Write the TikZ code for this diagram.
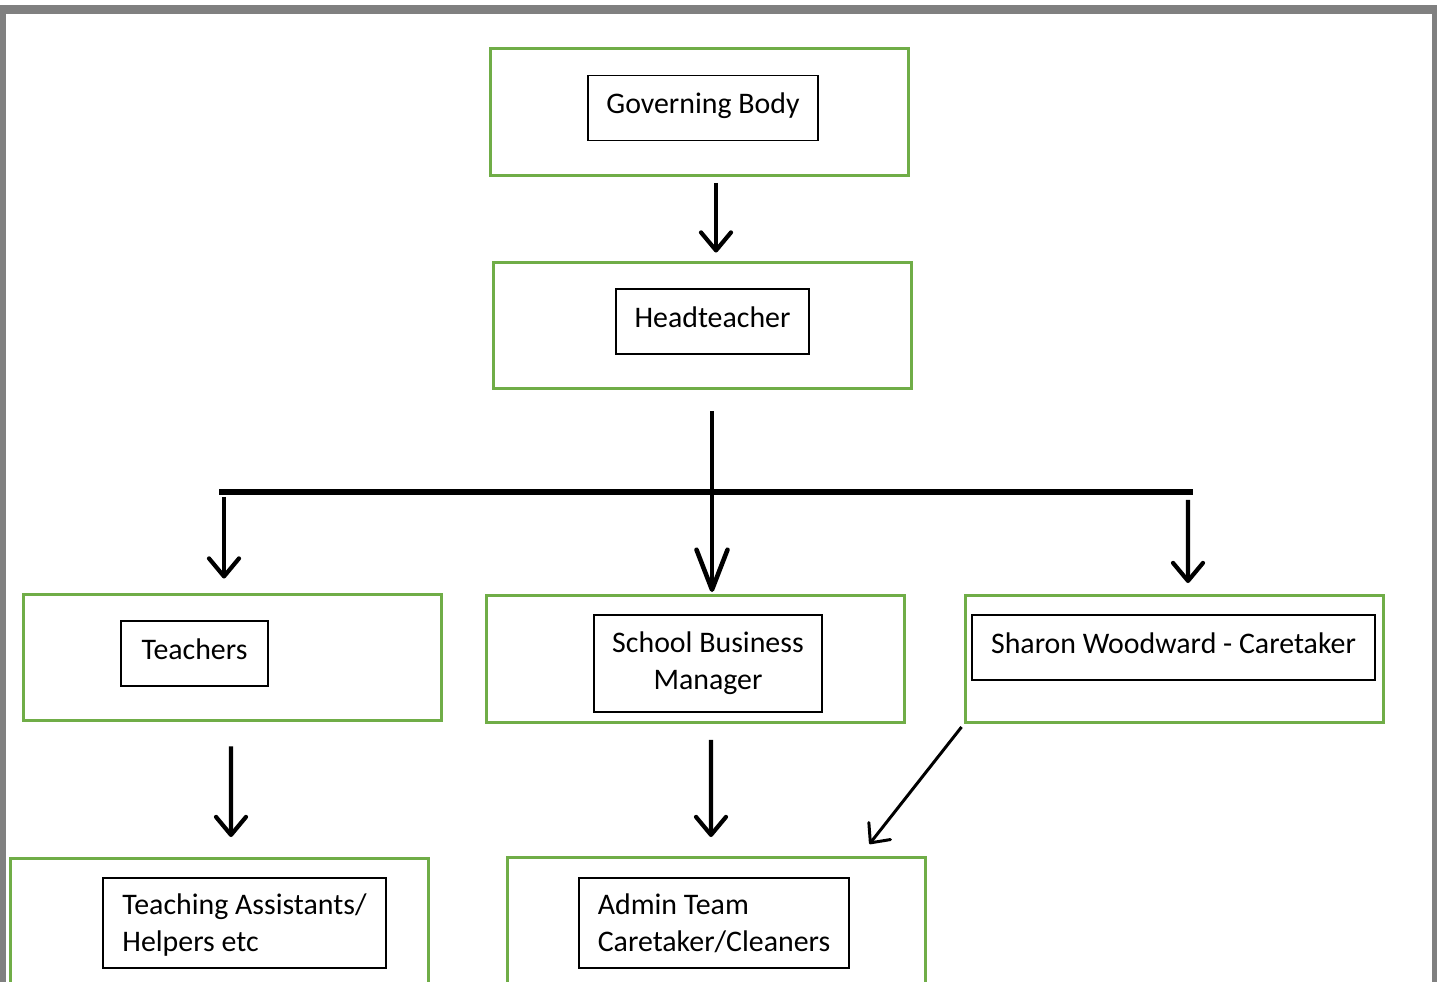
\documentclass[tikz,border=0pt]{standalone}
\usepackage{fontspec}
\setmainfont{Carlito}
\usetikzlibrary{arrows.meta, calc}

\definecolor{boxgreen}{RGB}{112,173,71}
\definecolor{framegray}{RGB}{128,128,128}

\begin{document}
\begin{tikzpicture}[x=0.02cm, y=-0.02cm,
  font=\fontsize{17}{21}\selectfont,
  outerbox/.style={draw=boxgreen, line width=1.7pt, minimum width=8.38cm, minimum height=2.54cm, inner sep=0pt},
  innerbox/.style={draw=black, line width=0.8pt, inner sep=0pt, align=center},
  onelinebox/.style={innerbox, text depth=0.18cm, minimum height=1.3cm},
  arr/.style={line width=2.4pt, -{Straight Barb[length=0.36cm, width=0.6cm, round]}},
  bigarr/.style={line width=2.6pt, -{Straight Barb[length=0.8cm, width=0.62cm, round]}},
  thinarr/.style={line width=1.7pt, -{Straight Barb[length=0.3cm, width=0.55cm, round]}}]
\useasboundingbox (0,0) rectangle (1437,982);
\clip (0,0) rectangle (1437,982);

% Page frame
\fill[framegray] (0,5) rectangle (1437,14);
\fill[framegray] (0,5) rectangle (6,982);
\fill[framegray] (1432,5) rectangle (1437,982);

% Green boxes
\node[outerbox] (gb) at (699.5,112) {};
\node[outerbox] (ht) at (702.5,325.5) {};
\node[outerbox] (teach) at (232.5,657.5) {};
\node[outerbox] (sbm) at (695.5,659) {};
\node[outerbox] (sharon) at (1174.5,659) {};
\node[outerbox] (ta) at (219.5,922) {};
\node[outerbox] (admin) at (716.5,921) {};

% Text boxes
\node[onelinebox, minimum width=4.6cm] (gbtxt) at (703,108) {Governing Body};
\node[onelinebox, minimum width=3.86cm] (httxt) at (712.5,321.5) {Headteacher};
\node[onelinebox, minimum width=2.94cm] (teachtxt) at (194.5,653.5) {Teachers};
\node[innerbox, minimum width=4.56cm, minimum height=1.94cm] (sbmtxt) at (708,663.5) {School Business\\Manager};
\node[onelinebox, minimum width=8.06cm] (sharontxt) at (1173.5,647.5) {Sharon Woodward - Caretaker};
\node[innerbox, align=left, text depth=0pt, minimum width=5.66cm, minimum height=1.8cm] (tatxt) at (244.5,923) {Teaching Assistants/\\Helpers etc};
\node[innerbox, align=left, text depth=0pt, minimum width=5.4cm, minimum height=1.8cm] (admintxt) at (714,923) {Admin Team\\Caretaker/Cleaners};

% Connectors
\coordinate (barL) at (219,492);
\coordinate (barR) at (1193,492);
\draw[arr] ($(gb.south)+(16.5,6)$) -- ($(ht.north)+(13.5,-8)$);
\draw[line width=3.4pt] (barL) -- (barR);
\draw[bigarr] ($(ht.south)+(9.5,21)$) -- ($(sbm.north)+(16.5,-2)$);
\draw[arr] ($(barL)+(5,5)$) -- ($(teach.north)+(-8.5,-14)$);
\draw[arr] ($(barR)+(-5,8)$) -- ($(sharon.north)+(13.5,-11)$);
\draw[arr] ($(teach.south)+(-1.5,24)$) -- ($(ta.north)+(11.5,-20)$);
\draw[arr] ($(sbm.south)+(15.5,16)$) -- ($(admin.north)+(-5.5,-19)$);
\draw[thinarr] ($(sharon.south west)+(-2,3)$) -- ($(admin.north east)+(-58,-12)$);
\end{tikzpicture}
\end{document}
